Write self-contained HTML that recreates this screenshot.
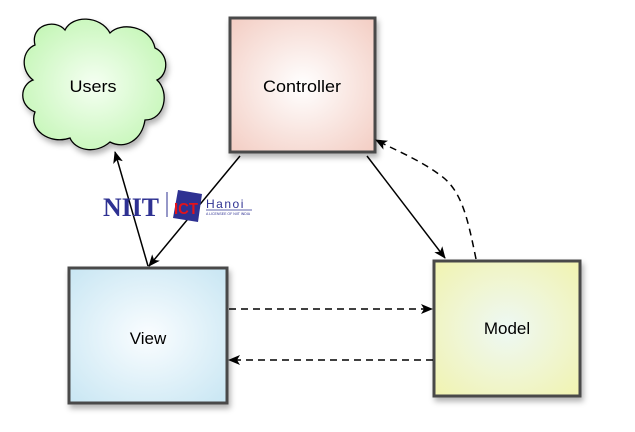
<!DOCTYPE html>
<html><head><meta charset="utf-8"><style>
html,body{margin:0;padding:0;background:#fff;width:635px;height:432px;overflow:hidden}
text{font-family:"Liberation Sans",Arial,sans-serif}
</style></head><body>
<svg width="635" height="432" viewBox="0 0 635 432" xmlns="http://www.w3.org/2000/svg">
<defs>
<radialGradient id="gC" cx="50%" cy="50%" r="70%"><stop offset="0" stop-color="#fff"/><stop offset="1" stop-color="#f3cdc3"/></radialGradient>
<radialGradient id="gV" cx="50%" cy="50%" r="70%"><stop offset="0" stop-color="#fafdff"/><stop offset="1" stop-color="#c8e6f3"/></radialGradient>
<radialGradient id="gM" cx="50%" cy="50%" r="70%"><stop offset="0" stop-color="#eef8f4"/><stop offset="1" stop-color="#f1f3b0"/></radialGradient>
<radialGradient id="gU" cx="50%" cy="50%" r="65%"><stop offset="0" stop-color="#f5fff2"/><stop offset="1" stop-color="#bff5b0"/></radialGradient>
<filter id="sh" x="-20%" y="-20%" width="150%" height="150%"><feDropShadow dx="2" dy="4" stdDeviation="3" flood-color="#000" flood-opacity="0.3"/></filter>
<marker id="ar" markerWidth="12" markerHeight="10" refX="11" refY="5" orient="auto" markerUnits="userSpaceOnUse"><path d="M0,0 L12,5 L0,10 L3,5 Z" fill="#000"/></marker>
</defs>
<path filter="url(#sh)" fill="url(#gU)" stroke="#000" stroke-width="1.3" d="M35,45 C30,25 55,18 65,30 C72,15 100,15 110,33 C120,22 150,25 155,48 C170,55 168,75 157,80 C170,92 165,120 145,120 C142,140 125,150 110,142 C95,155 75,150 70,138 C50,145 28,130 35,112 C18,105 20,85 33,80 C20,70 22,50 35,45 Z"/>
<text x="93" y="92" font-size="17" text-anchor="middle" textLength="47" lengthAdjust="spacingAndGlyphs">Users</text>
<rect x="230" y="18" width="145" height="134" fill="url(#gC)" stroke="#4a4a4a" stroke-width="3" filter="url(#sh)"/>
<text x="302" y="92" font-size="17" text-anchor="middle" textLength="78" lengthAdjust="spacingAndGlyphs">Controller</text>
<rect x="69" y="268" width="158" height="135" fill="url(#gV)" stroke="#4a4a4a" stroke-width="3" filter="url(#sh)"/>
<text x="148" y="344" font-size="17" text-anchor="middle">View</text>
<rect x="434" y="261" width="146" height="135" fill="url(#gM)" stroke="#4a4a4a" stroke-width="3" filter="url(#sh)"/>
<text x="507" y="334" font-size="17" text-anchor="middle">Model</text>
<line x1="148" y1="266" x2="115" y2="152" stroke="#000" stroke-width="1.5" marker-end="url(#ar)"/>
<line x1="240" y1="156" x2="149" y2="266" stroke="#000" stroke-width="1.5" marker-end="url(#ar)"/>
<line x1="367" y1="156" x2="445" y2="258" stroke="#000" stroke-width="1.5" marker-end="url(#ar)"/>
<path d="M476,259 C468,220 462,190 440,175 C420,160 395,150 376,140" fill="none" stroke="#000" stroke-width="1.5" stroke-dasharray="7,5" marker-end="url(#ar)"/>
<line x1="229" y1="309" x2="432" y2="309" stroke="#000" stroke-width="1.5" stroke-dasharray="7,5" marker-end="url(#ar)"/>
<line x1="433" y1="360" x2="229" y2="360" stroke="#000" stroke-width="1.5" stroke-dasharray="7,5" marker-end="url(#ar)"/>
<text x="103" y="216" style="font-family:'Liberation Serif',serif" font-weight="bold" font-size="26" fill="#2e3192" textLength="56" lengthAdjust="spacingAndGlyphs">NIIT</text>
<line x1="167" y1="192" x2="167" y2="217" stroke="#2e3192" stroke-width="1"/>
<polygon points="178,190 202,194 198,222 173,218" fill="#2e3192"/>
<text x="174" y="214" font-weight="bold" font-size="16" fill="#e3131b" textLength="24" lengthAdjust="spacingAndGlyphs">ICT</text>
<text x="206" y="208" font-size="12" fill="#2e3192" letter-spacing="1.5">Hanoi</text>
<line x1="206" y1="210" x2="252" y2="210" stroke="#2e3192" stroke-width="0.8"/>
<text x="206" y="215" font-size="3.5" fill="#2e3192">A LICENSEE OF NIIT INDIA</text>
</svg>
</body></html>
